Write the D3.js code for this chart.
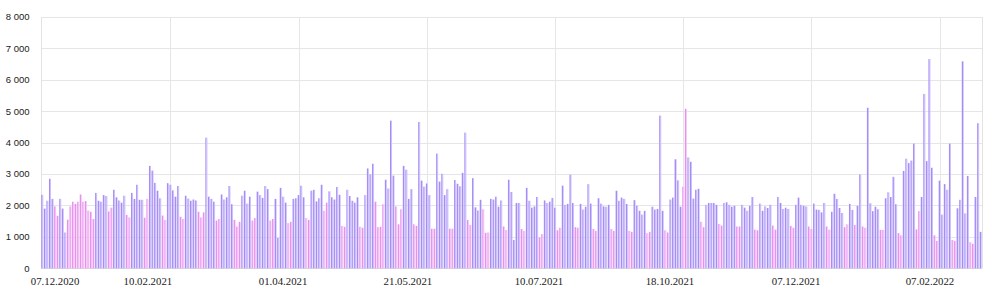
<!DOCTYPE html>
<html>
<head>
<meta charset="utf-8">
<script src="https://cdn.jsdelivr.net/npm/d3@7"></script>
<style>
  html, body { margin: 0; padding: 0; background: #fff; }
  svg { display: block; }
</style>
</head>
<body>
<div id="chart"></div>
<script>
// ---- data ----
const values = [
2340,1900,2150,2850,2210,1970,1670,2210,1900,1140,
1550,1970,2120,2050,2120,2350,2120,2140,1840,1800,
1570,2400,2150,2120,2330,2300,1810,1930,2500,2260,
2160,2090,2310,1700,1620,2400,2210,2660,2180,2180,
1610,2210,3260,3110,2720,2470,2230,1680,1540,2710,
2660,2480,2280,2620,1640,1570,2310,2220,2150,2190,
2160,1800,1620,1780,4160,2280,2210,2120,1520,1570,
2350,2190,2260,2620,2040,1540,1330,1480,2310,2470,
2060,2280,1520,1600,2440,2330,2240,2620,2520,1520,
1570,2210,970,2560,2280,2090,1440,1480,2210,2230,
2330,2630,2260,1600,1540,2470,2500,2130,2230,2660,
1830,2090,2450,2260,2190,2590,2340,1350,1320,2500,
2300,2150,2090,2260,1320,1290,2330,3180,2990,3330,
2120,1310,1320,2040,2820,2540,4700,2950,1970,1400,
1880,3260,3140,2210,2520,1400,1350,4660,2790,2600,
2700,2330,1260,1260,3650,2760,3010,2330,2520,1260,
1260,2810,2690,2610,3040,4320,1540,1380,2870,1940,
1840,2180,1880,1130,1140,2210,2190,2280,1960,2160,
1330,1220,2820,2430,900,2080,2080,1250,1190,2560,
2150,1930,1970,2270,980,1090,2160,2080,2120,2240,
1930,1210,1290,2630,2020,2050,2980,2080,1310,1290,
2050,1870,1960,2680,2060,1250,1190,2230,2060,1970,
1960,2020,1250,1190,2470,2150,2250,2210,2050,1190,
1160,2170,1990,1830,1710,1830,1120,1160,1960,1870,
1890,4860,1830,1210,1140,2190,2250,3470,2800,1960,
2600,5080,3530,3390,2220,2500,2530,1480,1310,2020,
2080,2080,2080,2020,1410,1360,2080,2100,2020,1960,
1990,1330,1330,2020,1930,1830,1990,2270,1230,1210,
2060,1830,1970,1920,2020,1360,1230,2270,2080,1890,
1930,1890,1350,1290,2020,2250,2020,1990,1970,1330,
1250,2060,1870,1860,1780,2080,1330,1230,1800,2370,
2210,1920,1760,1310,1400,2050,1860,1380,1990,2990,
1330,1290,5110,2070,1820,1960,1880,1220,1220,2230,
2420,2270,2910,2040,1120,1050,3100,3490,3350,3430,
3970,1240,1820,2270,5550,3410,6660,3200,1050,870,
2790,1710,2680,2500,3970,900,870,1910,2180,6590,
1750,2940,830,780,2270,4620,1160
];
// 1 = weekend / holiday (pink), 0 = working day (purple)
const dayOff = [
0,0,0,0,0,1,1,0,0,0,
1,1,1,1,1,1,1,1,1,1,
1,0,0,0,0,0,1,1,0,0,
0,0,0,1,1,0,0,0,0,0,
1,1,0,0,0,0,0,1,1,0,
0,0,0,0,1,1,0,0,0,0,
0,1,1,1,0,0,0,0,1,1,
0,0,0,0,0,1,1,1,0,0,
0,0,1,1,0,0,0,0,0,1,
1,0,0,0,0,0,1,1,0,0,
0,0,0,1,1,0,0,0,0,0,
1,1,0,0,0,0,0,1,1,0,
0,0,0,0,1,1,0,0,0,0,
1,1,1,1,0,0,0,0,1,1,
1,0,0,0,0,1,1,0,0,0,
0,0,1,1,0,0,0,0,0,1,
1,0,0,0,0,0,1,1,0,0,
0,0,1,1,1,0,0,0,0,0,
1,1,0,0,0,0,0,1,1,0,
0,0,0,0,1,1,0,0,0,0,
0,1,1,0,0,0,0,0,1,1,
0,0,0,0,0,1,1,0,0,0,
0,0,1,1,0,0,0,0,0,1,
1,0,0,0,0,0,1,1,0,0,
0,0,0,1,1,0,0,0,0,0,
1,1,0,0,0,0,0,1,1,0,
0,0,0,0,1,1,0,0,0,0,
0,1,1,0,0,0,0,0,1,1,
0,0,0,0,0,1,1,0,0,0,
0,0,1,1,0,0,0,0,0,1,
1,0,0,0,0,0,1,1,0,0,
0,0,0,1,1,0,0,1,0,0,
1,1,0,0,0,0,0,1,1,0,
0,0,0,0,1,1,0,0,0,0,
0,1,1,0,0,0,0,0,1,1,
0,0,0,0,0,1,1,0,0,0,
0,0,1,1,0,0,0
];
const yTicks = [0,1000,2000,3000,4000,5000,6000,7000,8000];
const xLabels = ["07.12.2020","10.02.2021","01.04.2021","21.05.2021","10.07.2021","18.10.2021","07.12.2021","07.02.2022"];
const xLabelAt = [5, 41.2, 93.9, 142.6, 193.7, 244.8, 294, 346.2];   // category position of each label
const xGridAt = [50, 100, 150, 200, 250, 300, 350];                   // category index of vertical gridlines

// ---- layout ----
const W = 1000, H = 298;
const m = {left: 41, right: 18, top: 17, bottom: 29.7};
const iw = W - m.left - m.right, ih = H - m.top - m.bottom;

const svg = d3.select("#chart").append("svg").attr("width", W).attr("height", H);

const defs = svg.append("defs");
function grad(id, dark, light) {
  const g = defs.append("linearGradient").attr("id", id)
    .attr("x1", "0").attr("x2", "1").attr("y1", "0").attr("y2", "0");
  g.append("stop").attr("offset", "0%").attr("stop-color", dark);
  g.append("stop").attr("offset", "45%").attr("stop-color", dark);
  g.append("stop").attr("offset", "55%").attr("stop-color", light);
  g.append("stop").attr("offset", "100%").attr("stop-color", light);
}
grad("gWork", "#a58cf6", "#cdc0fb");
grad("gOff", "#e890ee", "#f3c3f6");

const idx = d3.range(values.length);
const x = d3.scaleBand().domain(idx).range([m.left, m.left + iw]).paddingInner(0.22).paddingOuter(0.11);
const xc = i => m.left + (i + 0.5) * x.step();
const y = d3.scaleLinear().domain([0, 8000]).range([m.top + ih, m.top]);

const grid = svg.append("g");
// horizontal gridlines
grid.selectAll("line.h").data(yTicks).join("line")
  .attr("x1", m.left).attr("x2", m.left + iw)
  .attr("y1", d => Math.round(y(d)) + 0.5).attr("y2", d => Math.round(y(d)) + 0.5)
  .attr("stroke", d => d === 0 ? "#d8d8d8" : "#e6e6e6").attr("stroke-width", 1);
// vertical gridlines
grid.selectAll("line.v").data(xGridAt).join("line")
  .attr("x1", d => Math.round(xc(d)) + 0.5).attr("x2", d => Math.round(xc(d)) + 0.5)
  .attr("y1", m.top).attr("y2", m.top + ih)
  .attr("stroke", "#e6e6e6");
// frame left / right
[m.left, m.left + iw].forEach(px => {
  grid.append("line").attr("x1", Math.round(px) + 0.5).attr("x2", Math.round(px) + 0.5)
    .attr("y1", m.top).attr("y2", m.top + ih).attr("stroke", "#e3e3e3");
});

// bars
svg.append("g").selectAll("rect").data(idx).join("rect")
  .attr("x", i => x(i))
  .attr("width", x.bandwidth())
  .attr("y", i => y(values[i]))
  .attr("height", i => y(0) - y(values[i]))
  .attr("fill", i => dayOff[i] ? "url(#gOff)" : "url(#gWork)");

// y axis labels
const fmt = v => d3.format(",")(v).replace(/,/g, "\u00a0");
svg.append("g").selectAll("text").data(yTicks).join("text")
  .attr("x", 29.5).attr("y", d => y(d)).attr("dy", "0.35em")
  .attr("text-anchor", "end")
  .attr("font-family", "Liberation Sans, Arial, sans-serif")
  .attr("font-size", "9.5px").attr("fill", "#222")
  .text(d => fmt(d));

// x axis labels
svg.append("g").selectAll("text").data(xLabels).join("text")
  .attr("x", (d, i) => xc(xLabelAt[i]))
  .attr("y", 285)
  .attr("text-anchor", "middle")
  .attr("font-family", "Liberation Serif, 'Times New Roman', serif")
  .attr("font-size", "10.8px").attr("fill", "#222")
  .text(d => d);
</script>
</body>
</html>
